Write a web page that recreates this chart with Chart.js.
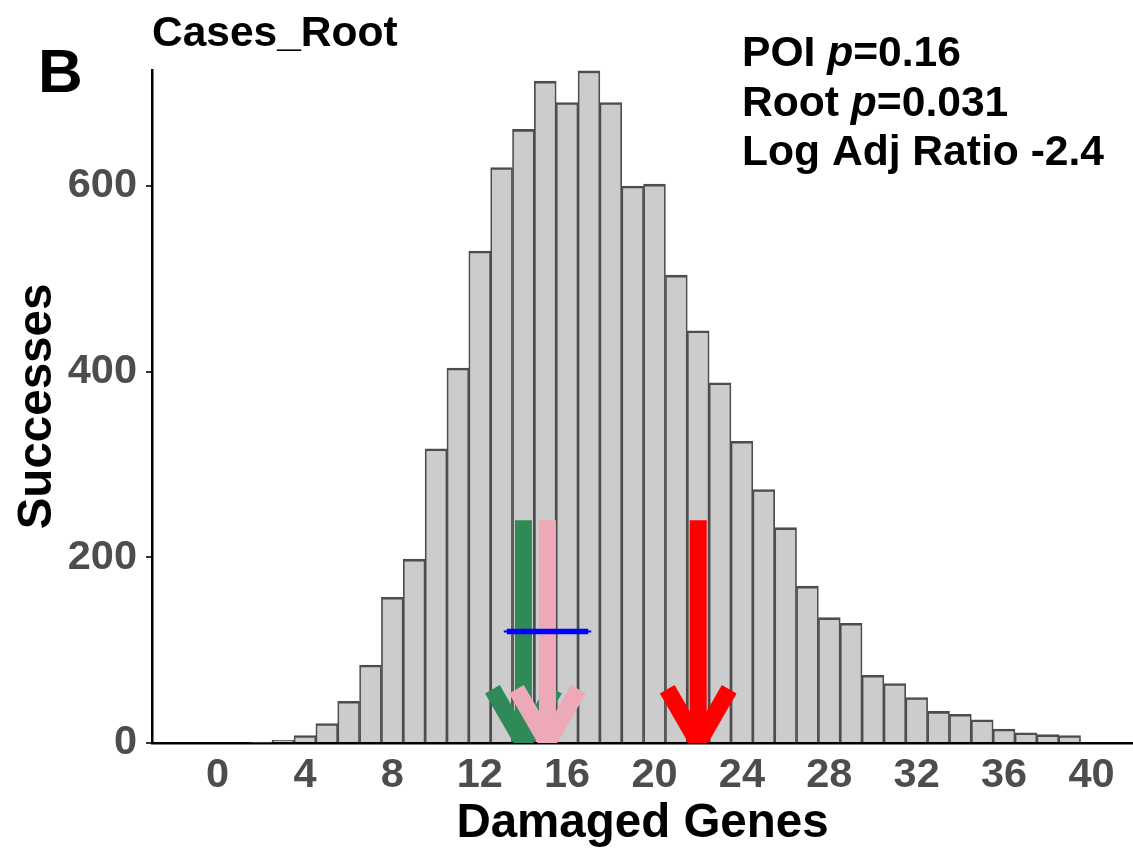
<!DOCTYPE html>
<html>
<head>
<meta charset="utf-8">
<title>Cases_Root</title>
<script src="https://cdn.jsdelivr.net/npm/chart.js@4.4.1/dist/chart.umd.min.js"></script>
<style>
  html, body { margin: 0; padding: 0; background: #ffffff; }
  canvas { display: block; }
</style>
</head>
<body>
<canvas id="histChart" width="1133" height="849"></canvas>
<script>
// histogram: number of damaged genes per simulation run
const geneCounts = [2, 3, 4, 5, 6, 7, 8, 9, 10, 11, 12, 13, 14, 15, 16, 17, 18, 19, 20,
  21, 22, 23, 24, 25, 26, 27, 28, 29, 30, 31, 32, 33, 34, 35, 36, 37, 38, 39];
const successes = [1, 3, 8, 21, 45, 84, 157, 198, 317, 404, 530, 620, 661, 713, 690, 724, 690, 600, 602,
  504, 444, 388, 325, 273, 232, 169, 135, 129, 73, 64, 49, 34, 31, 25, 15, 11, 9, 8];

const xTickValues = [0, 4, 8, 12, 16, 20, 24, 28, 32, 36, 40];
const yTickValues = [0, 200, 400, 600];

// observed gene counts marked with arrows (green, pink, red)
const arrowGenes = [14, 15.1, 22];
const arrowHeight = 240;

// spread around the pink marker
const spanGenes = [13.1, 17.1];
const spanLevel = 120;

const panelLabel = "B";
const plotTitle = "Cases_Root";
const statNames = ["POI", "Root"];
const statPValues = ["0.16", "0.031"];
const logAdjRatio = "-2.4";

const FONT = "'Liberation Sans', Arial, Helvetica, sans-serif";
const arrowColors = ["#2e8b57", "#eea9b8", "#ff0000"];

const markerPlugin = {
  id: "markers",
  afterDatasetsDraw(chart) {
    const { ctx, chartArea: area, scales: { x, y } } = chart;
    ctx.save();
    ctx.beginPath();
    ctx.rect(area.left, area.top, area.right - area.left, area.bottom - area.top);
    ctx.clip();

    const headLen = 62;
    const headAng = Math.PI / 6;
    arrowGenes.forEach((g, i) => {
      const px = x.getPixelForValue(g);
      const top = y.getPixelForValue(arrowHeight);
      const tip = y.getPixelForValue(0);
      ctx.strokeStyle = arrowColors[i];
      ctx.lineWidth = 17;
      ctx.lineCap = "butt";
      ctx.lineJoin = "miter";
      ctx.beginPath();
      ctx.moveTo(px, top);
      ctx.lineTo(px, tip);
      ctx.stroke();
      ctx.beginPath();
      ctx.moveTo(px - headLen * Math.sin(headAng), tip - headLen * Math.cos(headAng));
      ctx.lineTo(px, tip);
      ctx.lineTo(px + headLen * Math.sin(headAng), tip - headLen * Math.cos(headAng));
      ctx.stroke();
    });

    // blue range bar
    const x0 = x.getPixelForValue(spanGenes[0]);
    const x1 = x.getPixelForValue(spanGenes[1]);
    const py = y.getPixelForValue(spanLevel);
    ctx.strokeStyle = "#0000ff";
    ctx.lineWidth = 2;
    ctx.beginPath();
    ctx.moveTo(x0, py);
    ctx.lineTo(x1, py);
    ctx.stroke();
    ctx.lineWidth = 5.5;
    ctx.beginPath();
    ctx.moveTo(x0 + 3, py);
    ctx.lineTo(x1 - 3, py);
    ctx.stroke();
    ctx.restore();
  }
};

const textPlugin = {
  id: "texts",
  afterDraw(chart) {
    const { ctx, chartArea: area } = chart;
    ctx.save();
    ctx.fillStyle = "#000000";
    ctx.textBaseline = "alphabetic";

    ctx.font = "bold 62px " + FONT;
    ctx.textAlign = "left";
    ctx.fillText(panelLabel, 38, 92);

    ctx.font = "bold 42.5px " + FONT;
    ctx.fillText(plotTitle, 152, 46);

    // statistics block, p in italics
    const left = 742;
    const lines = statNames.map((n, i) => [[n + " ", "bold"], ["p", "italic bold"], ["=" + statPValues[i], "bold"]]);
    lines.push([["Log Adj Ratio " + logAdjRatio, "bold"]]);
    lines.forEach((parts, i) => {
      let cx = left;
      const by = 66 + i * 49.5;
      parts.forEach(([txt, style]) => {
        ctx.font = style + " 42.6px " + FONT;
        ctx.fillText(txt, cx, by);
        cx += ctx.measureText(txt).width;
      });
    });

    // axis titles
    ctx.font = "bold 47.5px " + FONT;
    ctx.textAlign = "center";
    ctx.fillText("Damaged Genes", (area.left + area.right) / 2, 837);
    ctx.translate(51, (area.top + area.bottom) / 2);
    ctx.rotate(-Math.PI / 2);
    ctx.fillText("Successes", 0, 0);
    ctx.restore();
  }
};

new Chart(document.getElementById("histChart"), {
  type: "bar",
  data: {
    datasets: [{
      data: geneCounts.map((g, i) => ({ x: g, y: successes[i] })),
      backgroundColor: "#cccccc",
      borderColor: "#4d4d4d",
      borderWidth: { top: 2.6, left: 1.7, right: 1.7, bottom: 0 },
      borderSkipped: false,
      barPercentage: 1,
      categoryPercentage: 1
    }]
  },
  options: {
    responsive: false,
    animation: false,
    layout: { padding: { top: 70, right: 0, left: 0, bottom: 0 } },
    plugins: {
      legend: { display: false },
      tooltip: { enabled: false }
    },
    scales: {
      x: {
        type: "linear",
        offset: false,
        min: -3.0,
        max: 41.9,
        z: 1,
        afterBuildTicks: s => { s.ticks = xTickValues.map(v => ({ value: v })); },
        afterFit: s => { s.height = 106; },
        grid: { display: true, offset: false, drawOnChartArea: false, drawTicks: false },
        border: { display: true, color: "#000000", width: 2.5 },
        ticks: {
          autoSkip: false,
          maxRotation: 0,
          padding: 8,
          color: "#4d4d4d",
          font: { family: FONT, size: 41.5, weight: "bold" }
        }
      },
      y: {
        min: 0,
        max: 725,
        afterBuildTicks: s => { s.ticks = yTickValues.map(v => ({ value: v })); },
        afterFit: s => { s.width = 152; },
        grid: { drawOnChartArea: false, drawTicks: true, tickLength: 6, color: "#333333", lineWidth: 2 },
        border: { display: true, color: "#000000", width: 2.5 },
        ticks: {
          padding: 9,
          color: "#4d4d4d",
          font: { family: FONT, size: 41.5, weight: "bold" }
        }
      }
    }
  },
  plugins: [markerPlugin, textPlugin]
});
</script>
</body>
</html>
